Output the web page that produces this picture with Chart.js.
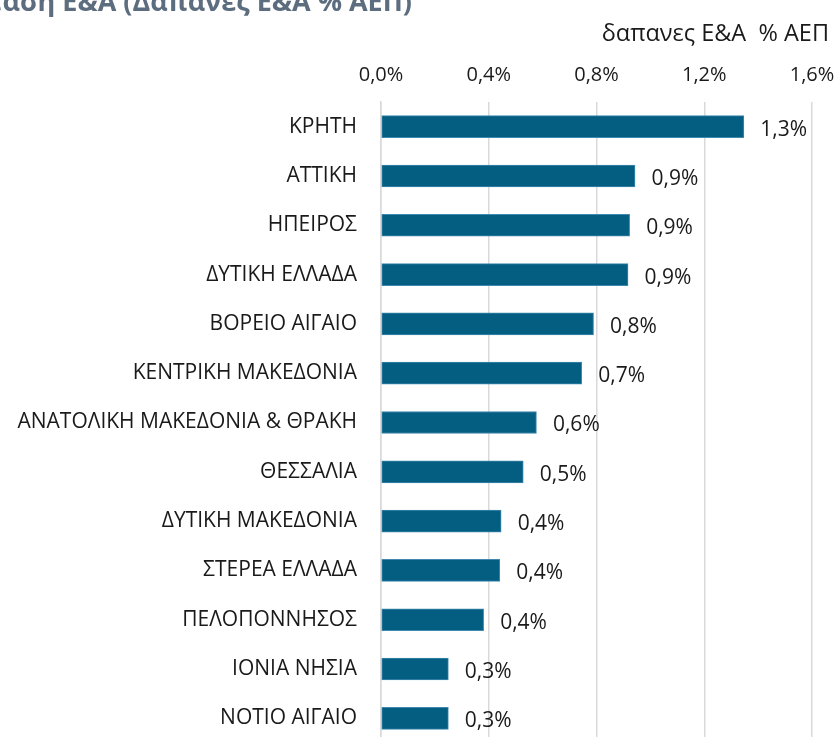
<!DOCTYPE html>
<html>
<head>
<meta charset="utf-8">
<script src="https://cdn.jsdelivr.net/npm/chart.js@4.4.0/dist/chart.umd.min.js"></script>
<style>
  html, body { margin: 0; padding: 0; background: #ffffff; overflow: hidden; }
  #wrap { position: absolute; left: 0; top: 0; width: 835px; height: 743px; }
</style>
</head>
<body>
<div id="wrap"><canvas id="c"></canvas></div>
<script>
const mainTitle = 'Ένταση Ε&Α (Δαπάνες Ε&Α % ΑΕΠ)';
const axisTitle = 'δαπανες Ε&Α  % ΑΕΠ';
const categories = [
  'ΚΡΗΤΗ', 'ΑΤΤΙΚΗ', 'ΗΠΕΙΡΟΣ', 'ΔΥΤΙΚΗ ΕΛΛΑΔΑ', 'ΒΟΡΕΙΟ ΑΙΓΑΙΟ',
  'ΚΕΝΤΡΙΚΗ ΜΑΚΕΔΟΝΙΑ', 'ΑΝΑΤΟΛΙΚΗ ΜΑΚΕΔΟΝΙΑ & ΘΡΑΚΗ', 'ΘΕΣΣΑΛΙΑ',
  'ΔΥΤΙΚΗ ΜΑΚΕΔΟΝΙΑ', 'ΣΤΕΡΕΑ ΕΛΛΑΔΑ', 'ΠΕΛΟΠΟΝΝΗΣΟΣ', 'ΙΟΝΙΑ ΝΗΣΙΑ', 'ΝΟΤΙΟ ΑΙΓΑΙΟ'
];
const values = [1.347, 0.943, 0.923, 0.917, 0.789, 0.745, 0.577, 0.528, 0.446, 0.441, 0.381, 0.25, 0.25];
const tickValues = [0, 0.4, 0.8, 1.2, 1.6];

const fmt = v => v.toFixed(1).replace('.', ',') + '%';
const FONT = '"Open Sans", "DejaVu Sans", sans-serif';

const mainTitlePlugin = {
  id: 'mainTitle',
  afterDraw(chart) {
    const ctx = chart.ctx;
    ctx.save();
    ctx.font = 'bold 27px ' + FONT;
    ctx.fillStyle = '#5B6D7E';
    ctx.textAlign = 'right';
    ctx.textBaseline = 'alphabetic';
    ctx.fillText(mainTitle, 412, 11);
    ctx.restore();
  }
};

const valueLabels = {
  id: 'valueLabels',
  afterDatasetsDraw(chart) {
    const ctx = chart.ctx;
    const meta = chart.getDatasetMeta(0);
    ctx.save();
    ctx.font = '21px ' + FONT;
    ctx.fillStyle = '#1a1a1a';
    ctx.textAlign = 'left';
    ctx.textBaseline = 'middle';
    meta.data.forEach((bar, i) => {
      ctx.fillText(fmt(values[i]), bar.x + 16.5, bar.y + 3);
    });
    ctx.restore();
  }
};

const TITLE_PAD_TOP = 20;
const TITLE_SIZE = 23.5;

new Chart(document.getElementById('c'), {
  type: 'bar',
  data: {
    labels: categories,
    datasets: [{
      data: values,
      backgroundColor: '#045E82',
      borderColor: '#3F88AE',
      borderWidth: 1,
      barThickness: 22,
      borderSkipped: false
    }]
  },
  options: {
    indexAxis: 'y',
    responsive: true,
    maintainAspectRatio: false,
    animation: false,
    layout: { padding: { top: 0, right: 6, left: 0, bottom: 0 } },
    plugins: {
      legend: { display: false },
      tooltip: { enabled: false },
      title: {
        display: true,
        text: axisTitle,
        align: 'end',
        color: '#1a1a1a',
        font: { family: FONT, size: TITLE_SIZE, weight: 'normal' },
        padding: { top: TITLE_PAD_TOP, bottom: 0 }
      }
    },
    scales: {
      x: {
        position: 'top',
        min: 0,
        max: 1.6,
        afterBuildTicks(scale) { scale.ticks = tickValues.map(v => ({ value: v })); },
        afterFit(scale) {
          scale.height = 102 - TITLE_PAD_TOP - TITLE_SIZE * 1.2;
          scale.paddingLeft = 0;
          scale.paddingRight = 23;
        },
        ticks: {
          color: '#1a1a1a',
          font: { family: FONT, size: 20 },
          padding: 15,
          callback: v => fmt(v)
        },
        grid: { color: '#D9D9D9', lineWidth: 1.5, drawTicks: false },
        border: { display: false }
      },
      y: {
        afterFit(scale) {
          scale.width = 381;
          scale.paddingTop = 0;
          scale.paddingBottom = 0;
        },
        ticks: {
          color: '#1a1a1a',
          font: { family: FONT, size: 21 },
          padding: 24
        },
        grid: { display: false, drawTicks: false },
        border: { display: true, color: '#D9D9D9', width: 1.5 }
      }
    }
  },
  plugins: [mainTitlePlugin, valueLabels]
});
</script>
</body>
</html>
